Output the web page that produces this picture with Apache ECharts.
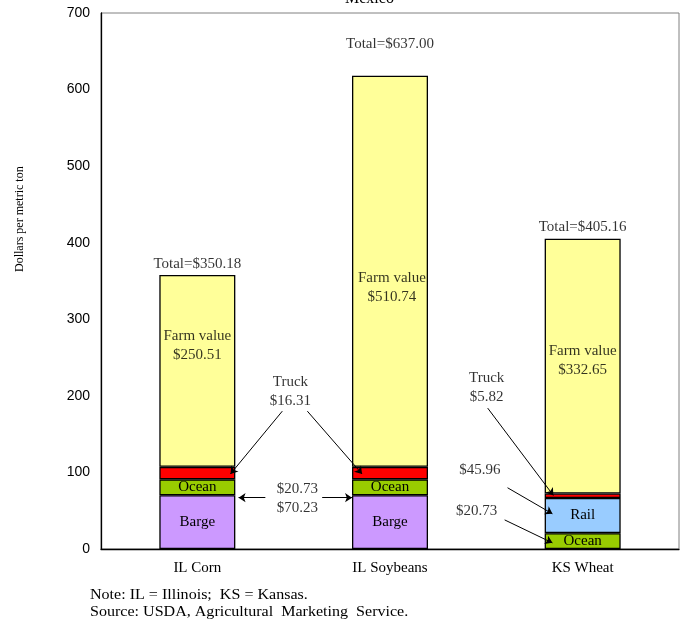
<!DOCTYPE html>
<html>
<head>
<meta charset="utf-8">
<script src="https://cdn.jsdelivr.net/npm/echarts@6/dist/echarts.min.js"></script>
<style>
  html, body { margin: 0; padding: 0; background: #fff; }
  #chart { width: 680px; height: 620px; }
</style>
</head>
<body>
<div id="chart"></div>
<script>
// categories and cost components (dollars per metric ton)
var categories = ['IL Corn', 'IL Soybeans', 'KS Wheat'];
var barge = [70.23, 70.23, null];
var ocean = [20.73, 20.73, 20.73];
var rail = [null, null, 45.96];
var truck = [16.31, 16.31, 5.82];
var farmValue = [250.51, 510.74, 332.65];
var totalLabels = ['Total=$350.18', 'Total=$637.00', 'Total=$405.16'];
var yTicks = [0, 100, 200, 300, 400, 500, 600, 700];

// text notes: [x on hidden value axis, y in dollars, text]
var notes = [
  [0, 372, totalLabels[0]],
  [1, 660, totalLabels[1]],
  [2, 421, totalLabels[2]],
  [0, 266, 'Farm value\n$' + farmValue[0].toFixed(2)],
  [1.01, 342, 'Farm value\n$' + farmValue[1].toFixed(2)],
  [2, 246, 'Farm value\n$' + farmValue[2].toFixed(2)],
  [0.483, 205, 'Truck\n$' + truck[0].toFixed(2)],
  [0.519, 66, '$' + ocean[0].toFixed(2) + '\n$' + barge[0].toFixed(2)],
  [1.502, 211, 'Truck\n$' + truck[2].toFixed(2)],
  [1.466, 103, '$' + rail[2].toFixed(2)],
  [1.45, 50, '$' + ocean[2].toFixed(2)]
];

// arrows: from -> to
var arrows = [
  [[0.441, 180], [0.172, 98]],
  [[0.571, 180], [0.855, 98]],
  [[0.353, 67], [0.214, 67]],
  [[0.648, 67], [0.803, 67]],
  [[1.507, 184], [1.848, 70]],
  [[1.610, 80], [1.843, 46]],
  [[1.595, 38], [1.843, 8]]
];

var serif = '"Liberation Serif", "Times New Roman", serif';

var chart = echarts.init(document.getElementById('chart'));

function segLabel(text) {
  return {
    show: true,
    position: 'inside',
    formatter: text,
    fontFamily: serif,
    fontSize: 15,
    color: '#000',
    textBorderWidth: 0
  };
}

var segStyle = function(color) {
  return { color: color, borderColor: '#000', borderWidth: 1.3 };
};

var option = {
  animation: false,
  backgroundColor: '#fff',
  grid: {
    left: 101, right: 1, top: 13, bottom: 71,
    show: true,
    borderColor: '#808080',
    borderWidth: 1,
    backgroundColor: 'transparent'
  },
  xAxis: [{
    type: 'category',
    data: categories,
    axisLine: { lineStyle: { color: '#000', width: 1.3 } },
    axisTick: { show: false },
    axisLabel: { fontFamily: serif, fontSize: 15, color: '#000', margin: 12 }
  }, {
    type: 'value',
    min: -0.5,
    max: 2.5,
    show: false
  }],
  yAxis: {
    type: 'value',
    min: yTicks[0],
    max: yTicks[yTicks.length - 1],
    interval: 100,
    axisLine: { show: true, onZero: false, lineStyle: { color: '#000', width: 1.3 } },
    axisTick: { show: false },
    splitLine: { show: false },
    axisLabel: { fontFamily: 'Liberation Sans, Arial, sans-serif', fontSize: 14, color: '#000', margin: 11 }
  },
  graphic: [{
    type: 'text',
    left: 345,
    top: -9,
    style: { text: 'Mexico', font: '16px ' + serif, fill: '#000' }
  }, {
    type: 'text',
    x: 14,
    y: 272,
    rotation: Math.PI / 2,
    style: { text: 'Dollars per metric ton', font: '12px ' + serif, fill: '#000' }
  }, {
    type: 'text',
    left: 90,
    top: 588,
    scaleX: 1.07,
    style: { text: 'Note: IL = Illinois;  KS = Kansas.', font: '15px ' + serif, fill: '#000' }
  }, {
    type: 'text',
    left: 90,
    top: 605,
    scaleX: 1.07,
    style: { text: 'Source: USDA, Agricultural  Marketing  Service.', font: '15px ' + serif, fill: '#000' }
  }],
  series: [{
    name: 'Barge', type: 'bar', stack: 'cost', barWidth: 76,
    data: barge, itemStyle: segStyle('#CC99FF'), label: segLabel('Barge')
  }, {
    name: 'Ocean', type: 'bar', stack: 'cost', barWidth: 76,
    data: ocean, itemStyle: segStyle('#99CC00'), label: segLabel('Ocean')
  }, {
    name: 'Rail', type: 'bar', stack: 'cost', barWidth: 76,
    data: rail, itemStyle: segStyle('#99CCFF'), label: segLabel('Rail')
  }, {
    name: 'Truck', type: 'bar', stack: 'cost', barWidth: 76,
    data: truck, itemStyle: segStyle('#FF0000')
  }, {
    name: 'Farm value', type: 'bar', stack: 'cost', barWidth: 76,
    data: farmValue, itemStyle: segStyle('#FFFF99')
  }, {
    name: 'notes', type: 'scatter',
    xAxisIndex: 1, yAxisIndex: 0,
    symbolSize: 1,
    itemStyle: { color: 'transparent' },
    silent: true,
    z: 10,
    data: notes.map(function(n) { return { value: [n[0], n[1]], name: n[2] }; }),
    label: {
      show: true,
      position: 'inside',
      formatter: '{b}',
      fontFamily: serif,
      fontSize: 15,
      lineHeight: 19,
      color: '#000',
      textBorderWidth: 0,
      align: 'center'
    }
  }, {
    name: 'arrows', type: 'lines',
    coordinateSystem: 'cartesian2d',
    xAxisIndex: 1, yAxisIndex: 0,
    silent: true,
    z: 10,
    symbol: ['none', 'arrow'],
    symbolSize: 7,
    lineStyle: { color: '#000', width: 1, opacity: 1 },
    data: arrows.map(function(a) { return { coords: a }; })
  }]
};

chart.setOption(option);
</script>
</body>
</html>
